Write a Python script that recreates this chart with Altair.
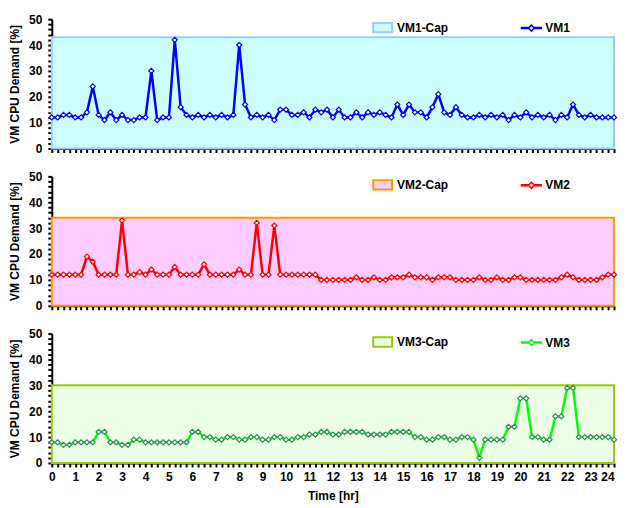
import altair as alt
import pandas as pd

FONT = "Liberation Sans"

# time axis: one sample every 15 minutes over 24 hours
hours = [i * 0.25 for i in range(97)]

vm1 = [12, 12, 13, 13, 12, 12, 14, 24, 13, 11,
       14, 11, 13, 11, 11, 12, 12, 30, 11, 12,
       12, 42, 16, 13, 12, 13, 12, 13, 12, 13,
       12, 13, 40, 17, 12, 13, 12, 13, 11, 15,
       15, 13, 13, 14, 12, 15, 14, 15,
       12, 15, 12, 12, 14, 12, 14, 13, 14, 13,
       12, 17, 13, 17, 14, 14, 12, 16, 21, 14,
       13, 16, 13, 12, 12, 13, 12, 13, 12, 13,
       11, 13, 12, 14, 12, 13, 12, 13, 11, 13,
       12, 17, 13, 12, 13, 12, 12, 12, 12]

vm2 = [12, 12, 12, 12, 12, 12, 19, 17, 12, 12,
       12, 12, 33, 12, 12, 13, 12, 14, 12, 12,
       12, 15, 12, 12, 12, 12, 16, 12, 12, 12,
       12, 12, 14, 12, 12, 32, 12, 12, 31, 12,
       12, 12, 12, 12, 12, 12, 10, 10,
       10, 10, 10, 10, 11, 10, 10, 11, 10, 10,
       11, 11, 11, 12, 11, 11, 11, 10, 11, 11,
       11, 10, 10, 10, 10, 11, 10, 10, 11, 10,
       10, 11, 11, 10, 10, 10, 10, 10, 10, 11,
       12, 11, 10, 10, 10, 10, 11, 12, 12]

vm3 = [8, 8, 7, 7, 8, 8, 8, 8, 12, 12,
       8, 8, 7, 7, 9, 9, 8, 8, 8, 8,
       8, 8, 8, 8, 12, 12, 10, 10, 9, 9,
       10, 10, 9, 9, 10, 10, 9, 9, 10, 10,
       9, 9, 10, 10, 11, 11, 12, 12,
       11, 11, 12, 12, 12, 12, 11, 11, 11, 11,
       12, 12, 12, 12, 10, 10, 9, 9, 10, 10,
       9, 9, 10, 10, 9, 2, 9, 9, 9, 9,
       14, 14, 25, 25, 10, 10, 9, 9, 18, 18,
       29, 29, 10, 10, 10, 10, 10, 10, 9]

caps = [43, 34, 30]
names = ["VM1", "VM2", "VM3"]
line_colors = ["#0000FF", "#FF0000", "#00FF00"]
marker_colors = ["#0000FF", "#FF0000", "#2E8B57"]
cap_fills = ["#CCFFFF", "#FFCCFF", "#EBFFE6"]
cap_edges = ["#99CCFF", "#FF9900", "#99CC00"]
series = [vm1, vm2, vm3]

for s in series:
    assert len(s) == len(hours)

RECT_SYMBOL = "M-1,-0.5H1V0.5H-1Z"
LINE_SYMBOL = ("M-1,-0.05H-0.3V0.05H-1Z M0.3,-0.05H1V0.05H0.3Z "
               "M-0.3,0L0,-0.3L0.3,0L0,0.3Z")

y_ticks = list(range(0, 51, 2))
PLOT_W = 565


def panel(idx, bottom):
    name = names[idx]
    df = pd.DataFrame({"hour": hours, "demand": series[idx], "series": name})
    cap_df = pd.DataFrame({"x0": [0.0], "x1": [24.0], "y0": [0],
                           "y1": [caps[idx]], "label": [name + "-Cap"]})

    xaxis_kw = dict(values=hours, tickSize=4, tickWidth=2,
                    labelOverlap=False, labelBound=False, grid=False)
    if bottom:
        xaxis_kw.update(labelExpr="datum.value % 1 === 0 ? '' + datum.value : ''",
                        labelAlign={"condition": {"test": "datum.value === 24", "value": "right"},
                                    "value": "center"},
                        labelPadding=5, title="Time [hr]", titlePadding=8)
    else:
        xaxis_kw.update(labels=False, title="")
    xaxis = alt.Axis(**xaxis_kw)
    yaxis = alt.Axis(values=y_ticks, tickSize=4, tickWidth=2,
                     labelExpr="datum.value % 10 === 0 ? '' + datum.value : ''",
                     labelOverlap=False, labelPadding=6,
                     title="VM CPU Demand [%]", titlePadding=7, grid=False)
    xs = alt.Scale(domain=[0, 24], nice=False)
    ys = alt.Scale(domain=[0, 50], nice=False)

    cap = alt.Chart(cap_df).mark_rect(strokeWidth=2).encode(
        x=alt.X("x0:Q", scale=xs, axis=xaxis),
        x2="x1:Q",
        y=alt.Y("y0:Q", scale=ys, axis=yaxis),
        y2="y1:Q",
        fill=alt.Fill("label:N",
                      scale=alt.Scale(domain=[name + "-Cap"], range=[cap_fills[idx]]),
                      legend=alt.Legend(title=None, orient="none", legendX=322, legendY=-2,
                                        symbolType=RECT_SYMBOL, symbolSize=361,
                                        symbolStrokeColor=cap_edges[idx],
                                        symbolStrokeWidth=2, labelOffset=4)),
        stroke=alt.value(cap_edges[idx]),
    )

    line = alt.Chart(df).mark_line(strokeWidth=2.5).encode(
        x=alt.X("hour:Q", scale=xs, axis=xaxis),
        y=alt.Y("demand:Q", scale=ys, axis=yaxis),
        stroke=alt.Stroke("series:N",
                          scale=alt.Scale(domain=[name], range=[line_colors[idx]]),
                          legend=alt.Legend(title=None, orient="none", legendX=471, legendY=-2,
                                            symbolType=LINE_SYMBOL, symbolSize=400,
                                            symbolStrokeWidth=1.5,
                                            symbolFillColor="white", labelOffset=3)),
    )

    pts = alt.Chart(df).mark_point(shape="diamond", filled=True, fill="white",
                                   stroke=marker_colors[idx], strokeWidth=1.2,
                                   size=26, opacity=1).encode(
        x=alt.X("hour:Q", scale=xs, axis=xaxis),
        y=alt.Y("demand:Q", scale=ys, axis=yaxis))

    return alt.layer(cap, line, pts).properties(width=PLOT_W, height=130)


chart = alt.vconcat(panel(0, False), panel(1, False), panel(2, True), spacing=16).resolve_scale(
    fill="independent", stroke="independent"
).resolve_legend(
    fill="independent", stroke="independent"
).properties(
    padding={"left": 0, "top": 4, "right": 0, "bottom": 0}
).configure_view(
    strokeWidth=0
).configure_axis(
    domainColor="black", domainWidth=2, tickColor="black",
    labelFont=FONT, labelFontSize=12, labelFontWeight="bold", labelColor="black",
    labelPadding=2,
    titleFont=FONT, titleFontSize=12, titleFontWeight="bold", titleColor="black",
).configure_legend(
    labelFont=FONT, labelFontSize=12, labelFontWeight="bold", labelColor="black",
    padding=0, offset=0,
)

chart.save("out.html", embed_options={"renderer": "svg", "actions": False})
